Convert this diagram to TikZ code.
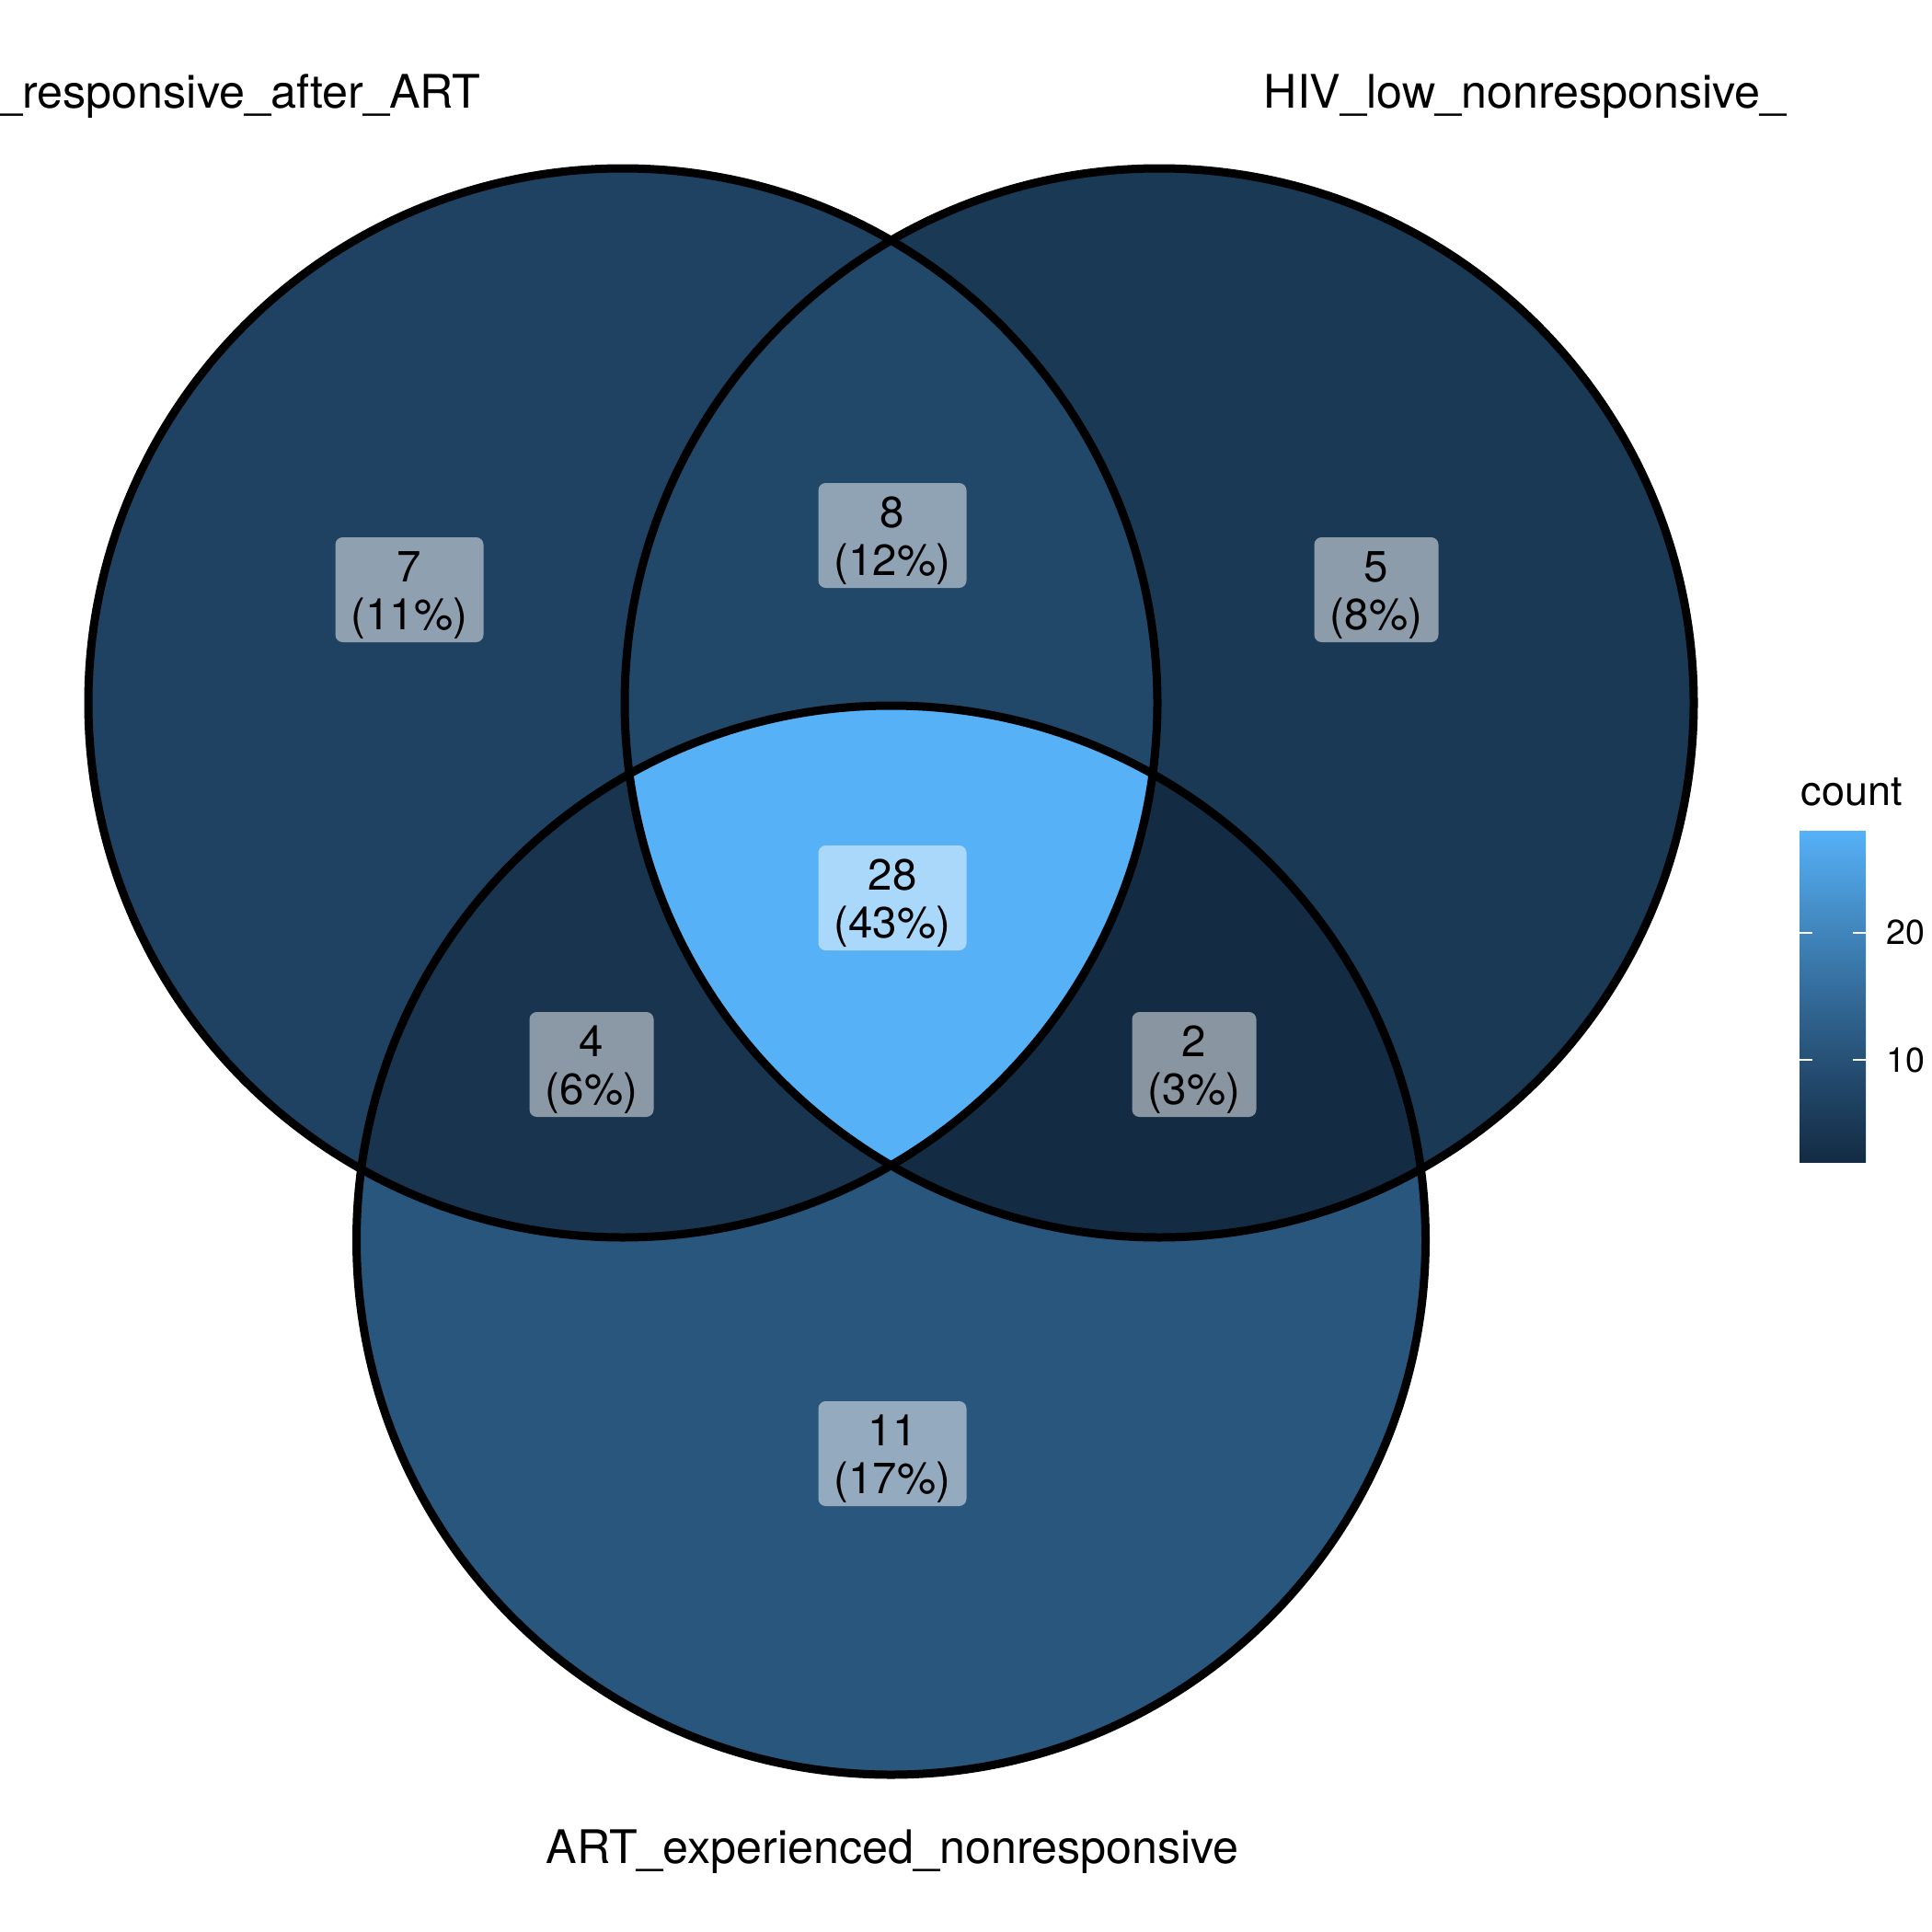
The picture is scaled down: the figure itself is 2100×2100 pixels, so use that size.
\documentclass[tikz,border=0pt]{standalone}
\usepackage{fontspec}
\setmainfont{TeX Gyre Heros}

% fill colours of the count scale (low #132B43 to high #56B1F7)
\definecolor{cTwo}{HTML}{132B43}
\definecolor{cFour}{HTML}{18344F}
\definecolor{cFive}{HTML}{1A3955}
\definecolor{cSeven}{HTML}{1F4262}
\definecolor{cEight}{HTML}{214769}
\definecolor{cEleven}{HTML}{29567D}
\definecolor{cMid}{HTML}{336A98}
\definecolor{cUpper}{HTML}{448DC6}
\definecolor{cMax}{HTML}{56B1F7}

\pgfdeclareverticalshading{countbar}{100bp}{%
  color(0bp)=(cTwo); color(25bp)=(cTwo); color(36.55bp)=(cEight);
  color(42.3bp)=(cEleven); color(50bp)=(cMid); color(62.5bp)=(cUpper);
  color(75bp)=(cMax); color(100bp)=(cMax)}

\begin{document}
\begin{tikzpicture}[x=0.1mm,y=-0.1mm,
  setname/.style={font=\fontsize{14.3pt}{16pt}\selectfont, inner sep=0pt},
  cntbox/.style={fill=white, fill opacity=0.5, rounded corners=0.8mm,
                 minimum height=11.4mm, inner sep=0pt},
  widebox/.style={cntbox, minimum width=16.1mm},
  narrowbox/.style={cntbox, minimum width=13.5mm},
  cnttext/.style={font=\fontsize{13.5pt}{14.8pt}\selectfont, align=center, inner sep=0pt},
  edge/.style={draw=black, line width=0.9mm},
  legtitle/.style={font=\fontsize{12.8pt}{14pt}\selectfont, inner sep=0pt},
  legtick/.style={font=\fontsize{10.7pt}{12pt}\selectfont, inner sep=0pt},
  tickmark/.style={draw=white, line width=0.2mm}]

\fill[white] (0,0) rectangle (2100,2100);
\useasboundingbox (0,0) rectangle (2100,2100);

% circle centres
\coordinate (cL) at (677,764);
\coordinate (cR) at (1260,764);
\coordinate (cB) at (968.5,1348);

% single-set regions
\fill[cSeven]  (cL) circle[radius=58.1mm];
\fill[cFive]   (cR) circle[radius=58.1mm];
\fill[cEleven] (cB) circle[radius=58.1mm];

% pairwise overlaps
\begin{scope}
  \clip (cL) circle[radius=58.1mm];
  \fill[cEight] (cR) circle[radius=58.1mm];
\end{scope}
\begin{scope}
  \clip (cL) circle[radius=58.1mm];
  \fill[cFour] (cB) circle[radius=58.1mm];
\end{scope}
\begin{scope}
  \clip (cR) circle[radius=58.1mm];
  \fill[cTwo] (cB) circle[radius=58.1mm];
\end{scope}

% triple overlap
\begin{scope}
  \clip (cL) circle[radius=58.1mm];
  \clip (cR) circle[radius=58.1mm];
  \fill[cMax] (cB) circle[radius=58.1mm];
\end{scope}

% outlines
\draw[edge] (cL) circle[radius=58.1mm];
\draw[edge] (cR) circle[radius=58.1mm];
\draw[edge] (cB) circle[radius=58.1mm];

% region counts
\node[widebox]  (b7)  at (445,641)  {};
\node[cnttext]  (t7)  at (445,647)  {7\\(11\%)};
\node[widebox]  (b8)  at (970,582)  {};
\node[cnttext]  (t8)  at (970,588)  {8\\(12\%)};
\node[narrowbox](b5)  at (1496,641) {};
\node[cnttext]  (t5)  at (1496,647) {5\\(8\%)};
\node[widebox]  (b28) at (970,976)  {};
\node[cnttext]  (t28) at (970,982)  {28\\(43\%)};
\node[narrowbox](b4)  at (643,1157) {};
\node[cnttext]  (t4)  at (643,1163) {4\\(6\%)};
\node[narrowbox](b2)  at (1298,1157) {};
\node[cnttext]  (t2)  at (1298,1163) {2\\(3\%)};
\node[widebox]  (b11) at (970,1580) {};
\node[cnttext]  (t11) at (970,1586) {11\\(17\%)};

% set names
\node[setname, anchor=base east] (nL) at (523,118) {\_responsive\_after\_ART};
\node[setname, anchor=base west] (nR) at (1373,118) {HIV\_low\_nonresponsive\_};
\node[setname, anchor=base] (nB) at (970,2025) {ART\_experienced\_nonresponsive};

% colour bar legend
\node[legtitle, anchor=base west] (legt) at (1957,875) {count};
\shade[shading=countbar] (1956,903) rectangle (2028,1263);
\coordinate (k20l) at (1956,1013.8);
\coordinate (k10l) at (1956,1152.2);
\coordinate (k20r) at (2028,1013.8);
\coordinate (k10r) at (2028,1152.2);
\draw[tickmark] (k20l) -- ++(14.4,0);
\draw[tickmark] (k20r) -- ++(-14.4,0);
\draw[tickmark] (k10l) -- ++(14.4,0);
\draw[tickmark] (k10r) -- ++(-14.4,0);
\node[legtick, anchor=west] (l20) at (2050,1013.8) {20};
\node[legtick, anchor=west] (l10) at (2050,1152.2) {10};
\end{tikzpicture}
\end{document}
